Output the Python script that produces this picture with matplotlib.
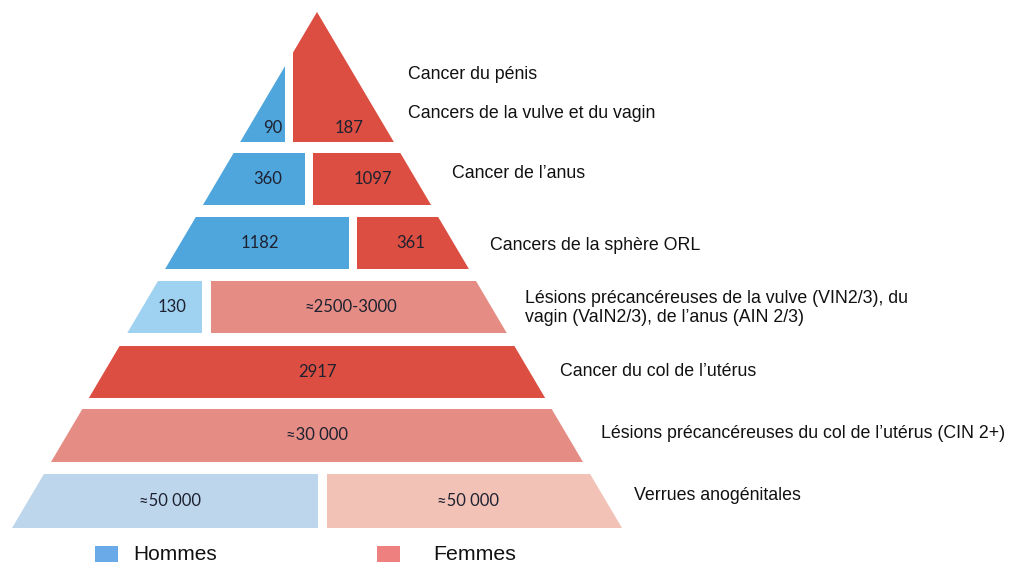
import matplotlib
matplotlib.use("Agg")
import matplotlib.pyplot as plt
from matplotlib.patches import Polygon, Rectangle

# data, top of pyramid first
categories = [
    "Cancer du pénis\n\nCancers de la vulve et du vagin",
    "Cancer de l’anus",
    "Cancers de la sphère ORL",
    "Lésions précancéreuses de la vulve (VIN2/3), du\nvagin (VaIN2/3), de l’anus (AIN 2/3)",
    "Cancer du col de l’utérus",
    "Lésions précancéreuses du col de l’utérus (CIN 2+)",
    "Verrues anogénitales",
]
hommes = ["90", "360", "1182", "130", None, None, "≈50 000"]
femmes = ["187", "1097", "361", "≈2500-3000", "2917", "≈30 000", "≈50 000"]
legend_labels = ["Hommes", "Femmes"]

# layout (pixels) : row top/bottom, split between men / women
rows_y = [(12, 142), (153, 205), (217, 269), (281, 333), (346, 398), (409, 462), (474, 528)]
splits = [(285, 293), (305, 313), (349, 357), (202, 211), None, None, (318, 327)]
nudge = [(6, 10), (6, 8), (-5, 5), (0, 0), (0, 0), (0, 0), (-3, 1)]
col_h = ["#4ea6dc", "#4ea6dc", "#4ea6dc", "#9fd1f1", None, None, "#bed6ec"]
col_f = ["#dc4e41", "#dc4e41", "#dc4e41", "#e58c84", "#dc4e41", "#e58c84", "#f2c2b7"]
label_x = [408, 452, 490, 525, 560, 601, 634]
label_y = [94, 174, 246, 308, 372, 433, 495]

apex_x, apex_y, base_y = 317, 12, 528
k = (apex_x - 12) / (base_y - apex_y)


def x_left(y):
    return apex_x - k * (y - apex_y)


def x_right(y):
    return apex_x + k * (y - apex_y)


fig = plt.figure(figsize=(10.1, 5.65), dpi=100)
ax = fig.add_axes([0, 0, 1, 1])
ax.set_xlim(0, 1010)
ax.set_ylim(565, 0)
ax.axis("off")

pyr = Polygon([(apex_x, apex_y), (x_right(base_y), base_y), (x_left(base_y), base_y)],
              closed=True, transform=ax.transData)

num_kw = dict(ha="center", va="center", fontsize=12, family="Lato", color="#1e2130")

for i, (y0, y1) in enumerate(rows_y):
    ym = (y0 + y1) / 2
    ty = y1 - 14 if i == 0 else ym
    if splits[i] is None:
        segs = [(0, 1010, col_f[i], femmes[i], 0)]
    else:
        segs = [(0, splits[i][0], col_h[i], hommes[i], nudge[i][0]),
                (splits[i][1], 1010, col_f[i], femmes[i], nudge[i][1])]
    for a, b, c, txt, dx in segs:
        r = Rectangle((a, y0), b - a, y1 - y0, facecolor=c, edgecolor="none")
        ax.add_patch(r)
        r.set_clip_path(pyr)
        xa = max(a, x_left(ty))
        xb = min(b, x_right(ty))
        ax.text((xa + xb) / 2 + dx, ty, txt, **num_kw)
    ax.text(label_x[i], label_y[i], categories[i], ha="left", va="center",
            fontsize=12.8, family="Liberation Sans", color="#111111", linespacing=1.22)

# legend
ax.add_patch(Rectangle((95, 546), 23, 16, facecolor="#6aaae8", edgecolor="none"))
ax.add_patch(Rectangle((377, 546), 23, 16, facecolor="#ee8080", edgecolor="none"))
ax.text(133, 554, legend_labels[0], ha="left", va="center", fontsize=15,
        family="Liberation Sans", color="#111111")
ax.text(433, 554, legend_labels[1], ha="left", va="center", fontsize=15.3,
        family="Liberation Sans", color="#111111")

fig.savefig("out.png", dpi=100)
